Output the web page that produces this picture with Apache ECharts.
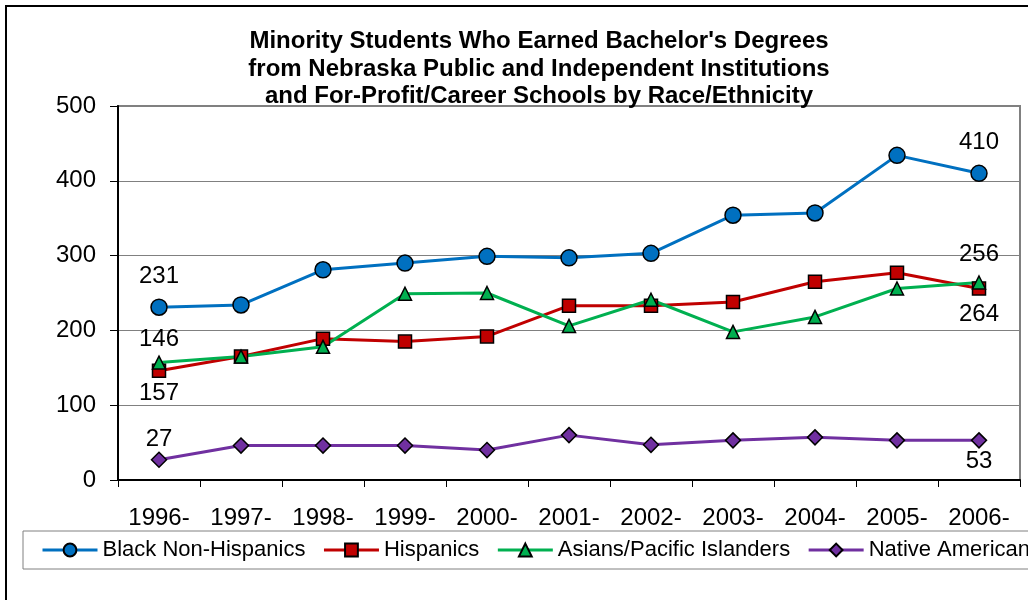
<!DOCTYPE html>
<html>
<head>
<meta charset="utf-8">
<script src="https://cdn.jsdelivr.net/npm/echarts@6/dist/echarts.min.js"></script>
<style>
  html, body { margin: 0; padding: 0; background: #fff; }
  #chart { width: 1028px; height: 600px; }
</style>
</head>
<body>
<div id="chart"></div>
<script>
var years = ['1996-', '1997-', '1998-', '1999-', '2000-', '2001-', '2002-', '2003-', '2004-', '2005-', '2006-'];
var blackNonHispanics = [231, 234, 281, 290, 299, 297, 303, 354, 357, 434, 410];
var hispanics = [146, 165, 189, 185, 192, 233, 233, 238, 265, 277, 256];
var asiansPacific = [157, 165, 178, 249, 250, 206, 241, 198, 218, 256, 264];
var nativeAmericans = [27, 46, 46, 46, 40, 60, 47, 53, 57, 53, 53];

// show value labels only on the first and last points
function withEndLabels(values, firstPos, firstDist, lastPos, lastDist) {
  return values.map(function (v, i) {
    if (i === 0) return { value: v, label: { show: true, position: firstPos, distance: firstDist } };
    if (i === values.length - 1) return { value: v, label: { show: true, position: lastPos, distance: lastDist } };
    return v;
  });
}

function lineSeries(name, color, symbol, size, data) {
  return {
    name: name,
    type: 'line',
    data: data,
    symbol: symbol,
    symbolSize: size,
    lineStyle: { color: color, width: 3 },
    itemStyle: { color: color, borderColor: '#000', borderWidth: 1.5 },
    label: { color: '#000', fontSize: 24, fontFamily: 'Liberation Sans' },
    emphasis: { disabled: true },
    animation: false
  };
}

var myChart = echarts.init(document.getElementById('chart'));
var option = {
  backgroundColor: '#fff',
  textStyle: { fontFamily: 'Liberation Sans' },
  title: {
    text: "Minority Students Who Earned Bachelor's Degrees\nfrom Nebraska Public and Independent Institutions\nand For-Profit/Career Schools by Race/Ethnicity",
    left: 534,
    top: 23,
    textAlign: 'center',
    textStyle: { fontSize: 24, fontWeight: 'bold', color: '#000', lineHeight: 27.5, fontFamily: 'Liberation Sans' }
  },
  graphic: [{
    type: 'rect',
    shape: { x: 6, y: 6, width: 1100, height: 700 },
    style: { fill: 'none', stroke: '#000', lineWidth: 2 },
    silent: true
  }],
  legend: {
    left: 23,
    top: 531,
    width: 1200,
    padding: [8, 14, 8, 18],
    itemGap: 17,
    itemWidth: 55,
    itemHeight: 16,
    borderColor: '#808080',
    borderWidth: 1,
    lineStyle: { width: 3 },
    textStyle: { fontSize: 22, color: '#000', fontFamily: 'Liberation Sans' },
    data: ['Black Non-Hispanics', 'Hispanics', 'Asians/Pacific Islanders', 'Native Americans']
  },
  grid: {
    left: 118,
    top: 106,
    right: 8,
    bottom: 120,
    show: true,
    borderColor: '#808080',
    borderWidth: 2
  },
  xAxis: {
    type: 'category',
    data: years,
    boundaryGap: true,
    axisLine: { lineStyle: { color: '#000', width: 2 } },
    axisTick: { show: true, length: 7, lineStyle: { color: '#000' } },
    axisLabel: { color: '#000', fontSize: 24, margin: 26 }
  },
  yAxis: {
    type: 'value',
    min: 0,
    max: 500,
    interval: 100,
    axisLine: { show: true, lineStyle: { color: '#000', width: 2 } },
    axisTick: { show: true, length: 8, lineStyle: { color: '#000' } },
    axisLabel: { color: '#000', fontSize: 24, margin: 22 },
    splitLine: { lineStyle: { color: '#808080', width: 1 } }
  },
  series: [
    lineSeries('Black Non-Hispanics', '#0070C0', 'circle', 16,
      withEndLabels(blackNonHispanics, 'top', 10, 'top', 10)),
    lineSeries('Hispanics', '#C00000', 'rect', 13,
      withEndLabels(hispanics, 'top', 12, 'top', 15)),
    lineSeries('Asians/Pacific Islanders', '#00B050', 'triangle', 13,
      withEndLabels(asiansPacific, 'bottom', 12, 'bottom', 13)),
    lineSeries('Native Americans', '#7030A0', 'diamond', 15,
      withEndLabels(nativeAmericans, 'top', 0, 'bottom', 1))
  ]
};
myChart.setOption(option);
</script>
</body>
</html>
